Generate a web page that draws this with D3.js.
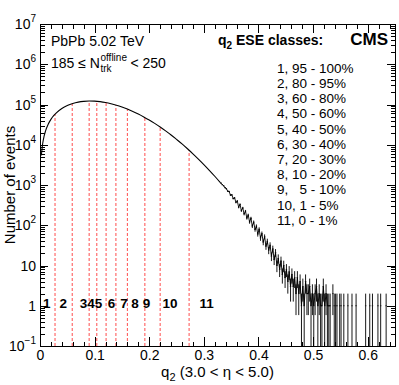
<!DOCTYPE html>
<html>
<head>
<meta charset="utf-8">
<script src="https://cdn.jsdelivr.net/npm/d3@7.9.0/dist/d3.min.js"></script>
<style>
  body { margin: 0; background: #fff; }
  svg { display: block; font-family: "Liberation Sans", Arial, Helvetica, sans-serif; }
</style>
</head>
<body>
<svg id="chart" width="399" height="385"></svg>
<script>
// smooth part of the q2 distribution
const q2Smooth = [0.0025, 0.005, 0.0075, 0.01, 0.015, 0.02, 0.025, 0.03, 0.04, 0.05,
  0.06, 0.07, 0.08, 0.09, 0.10, 0.11, 0.12, 0.13, 0.14, 0.15, 0.16, 0.17, 0.18, 0.19,
  0.20, 0.21, 0.22, 0.23, 0.24, 0.25, 0.26, 0.27, 0.28, 0.29, 0.30, 0.31, 0.32, 0.33];
const eventsSmooth = [5460, 10900, 16300, 21700, 32400, 42700, 52700, 62200, 79600, 94300,
  106000, 114600, 119800, 121900, 121100, 117700, 112100, 104700, 96200, 86800, 77100, 67400, 58000, 49200,
  41200, 33900, 27600, 22100, 17500, 13600, 10500, 7960, 5960, 4410, 3220, 2320, 1650, 1160];

// noisy tail, histogram bins
const tailLow = 0.33;
const tailWidth = 0.0025;
const tailCounts = [
  1120, 1020, 960, 860,  810, 700, 690, 560,  570, 460, 480, 370,
  400, 280, 330, 230,  270, 190, 225, 150,  180, 120, 150, 95,
  120, 78, 95, 60,  80, 48, 62, 38,  52, 30, 40, 24,
  32, 17, 26, 14,  21, 10, 15, 8,  13, 6, 10, 5,
  8, 4, 7, 3,  6, 3, 5, 2,  5, 2, 4, 1,
  3, 1, 4, 2,  2, 3, 1, 2,  1, 2, 3, 1,
  2, 1, 1, 3,  1, 2, 1, 1,  1, 0, 2, 1,
  1, 1, 0, 1,  1, 0, 1, 0,  0, 1, 0, 0,
  1, 0, 0, 1,  0, 0, 0, 0,  0, 0, 1, 0,
  0, 1, 0, 1,  0, 0, 0, 1,  0, 1, 0, 0,
  0, 1, 0, 0,  0, 0, 0, 0
];

// ESE class boundaries (red dashed lines)
const classEdges = [0.0275, 0.059, 0.090, 0.104, 0.121, 0.139, 0.160, 0.192, 0.220, 0.273];
const classEdgeEvents = [57500, 105000, 121900, 120500, 111500, 97000, 77100, 47500, 27600, 7300];

const classLabels = ["1", "2", "345", "6", "7", "8", "9", "10", "11"];
const classLabelQ = [0.0123, 0.0427, 0.0934, 0.131, 0.154, 0.174, 0.195, 0.238, 0.305];

const eseClasses = ["1, 95 - 100%", "2, 80 - 95%", "3, 60 - 80%", "4, 50 - 60%", "5, 40 - 50%",
  "6, 30 - 40%", "7, 20 - 30%", "8, 10 - 20%", "9,   5 - 10%", "10, 1 - 5%", "11, 0 - 1%"];

const xTicks = [0, 0.1, 0.2, 0.3, 0.4, 0.5, 0.6];
const yDecades = [-1, 0, 1, 2, 3, 4, 5, 6, 7];

const L = 40, R = 395, T = 24, B = 346;
const svg = d3.select('#chart');
const x = d3.scaleLinear().domain([0, 0.65]).range([L, R]);
const y = d3.scaleLog().domain([0.1, 1e7]).range([B, T]);

// red dashed class boundaries
svg.append('g').selectAll('line').data(classEdges).join('line')
  .attr('x1', d => x(d)).attr('x2', d => x(d))
  .attr('y1', B).attr('y2', (d, i) => y(classEdgeEvents[i]))
  .attr('stroke', '#ff3030').attr('stroke-width', 1)
  .attr('stroke-dasharray', '3,2').attr('opacity', 0.85);

// smooth curve
const line = d3.line().x(d => x(d[0])).y(d => y(d[1])).curve(d3.curveMonotoneX);
svg.append('path')
  .attr('d', line(q2Smooth.map((q, i) => [q, eventsSmooth[i]])))
  .attr('fill', 'none').attr('stroke', '#000').attr('stroke-width', 1.1);

// tail: histogram with error bars
const tailAll = tailCounts.map((v, i) => ({ lo: tailLow + i * tailWidth, hi: tailLow + (i + 1) * tailWidth, v }));
const tail = tailAll.filter(d => d.v > 0);
const firstZero = tailCounts.indexOf(0);
const tailLine = d3.line().x(d => x((d.lo + d.hi) / 2)).y(d => y(d.v));
svg.append('path')
  .attr('d', tailLine([{ lo: 0.33, hi: 0.33, v: eventsSmooth[eventsSmooth.length - 1] }]
    .concat(tailAll.slice(0, firstZero))))
  .attr('fill', 'none').attr('stroke', '#000').attr('stroke-width', 0.9);
const tg = svg.append('g').attr('stroke', '#000').attr('stroke-width', 1).attr('opacity', 0.9);
tg.selectAll('line.err').data(tail).join('line').attr('class', 'err')
  .attr('x1', d => x((d.lo + d.hi) / 2)).attr('x2', d => x((d.lo + d.hi) / 2))
  .attr('y1', d => y(Math.max(d.v - Math.sqrt(d.v), 0.1)))
  .attr('y2', d => y(d.v + Math.sqrt(d.v)));
tg.selectAll('line.bin').data(tail).join('line').attr('class', 'bin')
  .attr('x1', d => x(d.lo)).attr('x2', d => x(d.hi))
  .attr('y1', d => y(d.v)).attr('y2', d => y(d.v));

// axes (ticks inward, ROOT style)
const xMinor = d3.range(0, 33).map(i => i * 0.02);
const yMinor = [];
yDecades.slice(0, -1).forEach(d => { for (let m = 2; m <= 9; m++) yMinor.push(m * Math.pow(10, d)); });
const yMajor = yDecades.map(d => Math.pow(10, d));

function axisG(axis) {
  const g = svg.append('g').call(axis);
  g.select('.domain').remove();
  g.selectAll('line').attr('stroke', '#000').attr('shape-rendering', 'crispEdges');
  return g;
}
const bx = axisG(d3.axisBottom(x).tickValues(xTicks).tickSize(-9).tickSizeOuter(0).tickPadding(4)
  .tickFormat(d => d === 0 ? '0' : d3.format('.1f')(d)));
bx.attr('transform', `translate(0,${B})`);
bx.selectAll('text').attr('font-size', 14).attr('fill', '#000').attr('font-family', null);
axisG(d3.axisBottom(x).tickValues(xMinor).tickSize(-4.5).tickFormat('')).attr('transform', `translate(0,${B})`);
axisG(d3.axisTop(x).tickValues(xTicks).tickSize(-9).tickFormat('')).attr('transform', `translate(0,${T})`);
axisG(d3.axisTop(x).tickValues(xMinor).tickSize(-4.5).tickFormat('')).attr('transform', `translate(0,${T})`);
axisG(d3.axisLeft(y).tickValues(yMajor).tickSize(-8).tickFormat('')).attr('transform', `translate(${L},0)`);
axisG(d3.axisLeft(y).tickValues(yMinor).tickSize(-4.5).tickFormat('')).attr('transform', `translate(${L},0)`);
axisG(d3.axisRight(y).tickValues(yMajor).tickSize(-8).tickFormat('')).attr('transform', `translate(${R},0)`);
axisG(d3.axisRight(y).tickValues(yMinor).tickSize(-4.5).tickFormat('')).attr('transform', `translate(${R},0)`);

// frame
svg.append('rect').attr('x', L).attr('y', T).attr('width', R - L).attr('height', B - T)
  .attr('fill', 'none').attr('stroke', '#000').attr('shape-rendering', 'crispEdges');

// y tick labels with exponents
yDecades.forEach(d => {
  const t = svg.append('text').attr('x', 36).attr('y', y(Math.pow(10, d)) + 5)
    .attr('text-anchor', 'end').attr('font-size', 14);
  if (d === 0) { t.text('1'); return; }
  t.append('tspan').text('10');
  if (d !== 1) {
    t.append('tspan').attr('dy', -7).attr('font-size', 10).text(d < 0 ? '\u2212' + (-d) : d);
  }
});

// axis titles
const xt = svg.append('text').attr('x', (L + R) / 2).attr('y', 377)
  .attr('text-anchor', 'middle').attr('font-size', 15);
xt.append('tspan').text('q');
xt.append('tspan').attr('dy', 4).attr('font-size', 11).text('2');
xt.append('tspan').attr('dy', -4).text(' (3.0 < \u03b7 < 5.0)');

svg.append('text').attr('transform', `translate(15,${(T + B) / 2}) rotate(-90)`)
  .attr('text-anchor', 'middle').attr('font-size', 15).text('Number of events');

// class numbers
svg.append('g').selectAll('text').data(classLabels).join('text')
  .attr('x', (d, i) => x(classLabelQ[i])).attr('y', 308)
  .attr('text-anchor', 'middle').attr('font-size', 13.5).attr('font-weight', 'bold')
  .text(d => d);

// top-left annotations
svg.append('text').attr('x', 51).attr('y', 46).attr('font-size', 14).text('PbPb 5.02 TeV');
const n1 = svg.append('text').attr('x', 51).attr('y', 68).attr('font-size', 14).text('185 \u2264 N');
const n1w = n1.node().getComputedTextLength();
const sub = svg.append('text').attr('x', 51 + n1w + 0.5).attr('y', 72).attr('font-size', 10).text('trk');
const sup = svg.append('text').attr('x', 51 + n1w + 0.5).attr('y', 61).attr('font-size', 10).text('offline');
const sw = Math.max(sub.node().getComputedTextLength(), sup.node().getComputedTextLength());
svg.append('text').attr('x', 51 + n1w + sw + 4).attr('y', 68).attr('font-size', 14).text('< 250');

// legend of classes
const lt = svg.append('text').attr('x', 218).attr('y', 45).attr('font-size', 14).attr('font-weight', 'bold');
lt.append('tspan').text('q');
lt.append('tspan').attr('dy', 4).attr('font-size', 10).text('2');
lt.append('tspan').attr('dy', -4).text(' ESE classes:');
svg.append('text').attr('x', 388).attr('y', 45).attr('text-anchor', 'end')
  .attr('font-size', 17).attr('font-weight', 'bold').text('CMS');

svg.append('g').selectAll('text').data(eseClasses).join('text')
  .attr('x', 277).attr('y', (d, i) => 72.7 + i * 15.2)
  .attr('font-size', 13.5).attr('xml:space', 'preserve').style('white-space', 'pre')
  .text(d => d);
</script>
</body>
</html>
